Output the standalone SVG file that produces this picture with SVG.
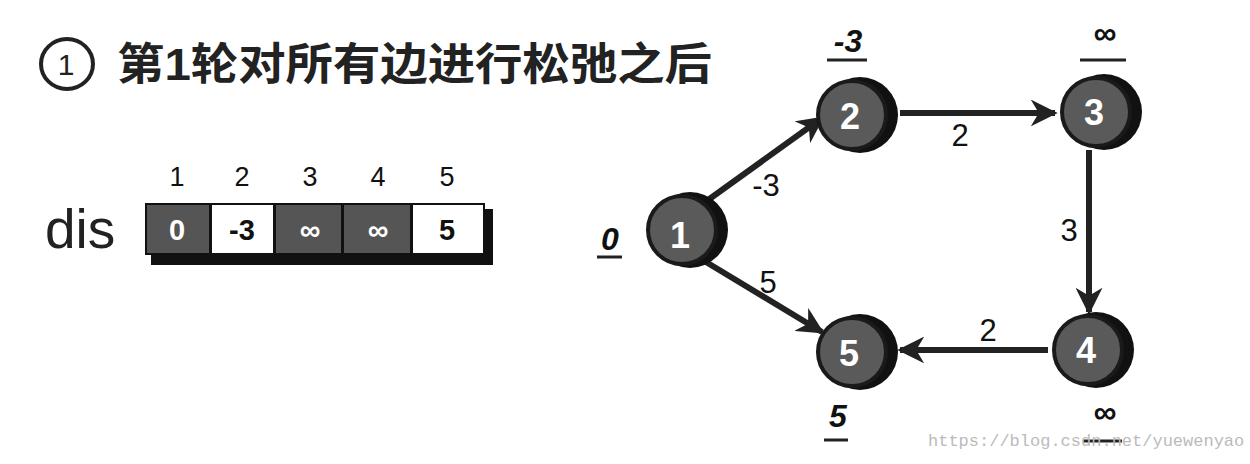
<svg xmlns="http://www.w3.org/2000/svg" width="1250" height="464" viewBox="0 0 1250 464">
<style>
.t{font-family:"Liberation Sans","Noto Sans CJK SC",sans-serif;}
.e{stroke:#222;stroke-width:6;fill:none;}
.nshadow{fill:#111;}
.nfill{fill:#5a5a5a;stroke:#1a1a1a;stroke-width:4;}
.nlab{font-family:"Liberation Sans",sans-serif;font-weight:bold;font-size:36px;fill:#fff;text-anchor:middle;}
.wl{font-family:"Liberation Sans",sans-serif;font-size:31px;fill:#111;text-anchor:middle;}
.dl{font-family:"Liberation Sans",sans-serif;font-weight:bold;font-style:italic;font-size:32px;fill:#111;text-anchor:middle;}
.ul{stroke:#222;stroke-width:3;}
.hd{font-family:"Liberation Sans",sans-serif;font-size:27px;fill:#111;text-anchor:middle;}
.cv{font-family:"Liberation Sans",sans-serif;font-weight:bold;font-size:29px;text-anchor:middle;}
</style>
<defs>
<marker id="ah" viewBox="0 0 10 10" refX="9" refY="5" markerWidth="4.5" markerHeight="4.5" orient="auto" markerUnits="strokeWidth">
<path d="M0,0 L10,5 L0,10 L3,5 Z" fill="#222"/>
</marker>
</defs>
<rect width="1250" height="464" fill="#fff"/>
<g id="title">
<ellipse cx="67" cy="64" rx="26" ry="25" fill="none" stroke="#222" stroke-width="4"/>
<text x="66" y="75" font-family="Liberation Sans,sans-serif" font-size="30" text-anchor="middle" fill="#222">1</text>
<text class="t" x="117" y="80" font-size="44" font-weight="bold" fill="#222" textLength="595" lengthAdjust="spacingAndGlyphs">第1轮对所有边进行松弛之后</text>
</g>
<g id="dis-table">
<text class="t" x="45" y="248" font-size="55" fill="#222">dis</text>
<rect x="151" y="209" width="342" height="56" fill="#111"/>
<rect x="145" y="203" width="340" height="52" fill="#111"/>
<rect x="147" y="205" width="62" height="48" fill="#555"/>
<rect x="212" y="205" width="61" height="48" fill="#fff"/>
<rect x="276" y="205" width="65" height="48" fill="#555"/>
<rect x="344" y="205" width="66" height="48" fill="#555"/>
<rect x="413" y="205" width="70" height="48" fill="#fff"/>
<text class="hd" x="177" y="186">1</text>
<text class="hd" x="242" y="186">2</text>
<text class="hd" x="310" y="186">3</text>
<text class="hd" x="378" y="186">4</text>
<text class="hd" x="447" y="186">5</text>
<text class="cv" x="177" y="240" fill="#fff">0</text>
<text class="cv" x="242" y="240" fill="#111">-3</text>
<text class="cv" x="310" y="240" fill="#fff">∞</text>
<text class="cv" x="378" y="240" fill="#fff">∞</text>
<text class="cv" x="447" y="240" fill="#111">5</text>
</g>
<g id="connectors">
<line class="e" x1="708" y1="200" x2="822" y2="118" marker-end="url(#ah)"/>
<line class="e" x1="900" y1="113" x2="1055" y2="113" marker-end="url(#ah)"/>
<line class="e" x1="1089" y1="150" x2="1089" y2="312" marker-end="url(#ah)"/>
<line class="e" x1="1048" y1="350" x2="900" y2="350" marker-end="url(#ah)"/>
<line class="e" x1="706" y1="262" x2="822" y2="332" marker-end="url(#ah)"/>
<text class="wl" x="766" y="196">-3</text>
<text class="wl" x="960" y="146">2</text>
<text class="wl" x="1069" y="241">3</text>
<text class="wl" x="988" y="341">2</text>
<text class="wl" x="768" y="293">5</text>
</g>
<g id="node1">
<circle class="nshadow" cx="690" cy="230" r="38"/>
<circle class="nfill" cx="682" cy="230" r="34"/>
<text class="nlab" x="680" y="248">1</text>
<text class="dl" x="610" y="250">0</text>
<line class="ul" x1="597" y1="257" x2="622" y2="257"/>
</g>
<g id="node2">
<circle class="nshadow" cx="860" cy="115" r="38"/>
<circle class="nfill" cx="852" cy="115" r="34"/>
<text class="nlab" x="850" y="129">2</text>
<text class="dl" x="848" y="52">-3</text>
<line class="ul" x1="827" y1="60" x2="867" y2="60"/>
</g>
<g id="node3">
<circle class="nshadow" cx="1104" cy="112" r="38"/>
<circle class="nfill" cx="1096" cy="112" r="34"/>
<text class="nlab" x="1094" y="125">3</text>
<text class="dl" x="1105" y="44">∞</text>
<line class="ul" x1="1080" y1="60" x2="1126" y2="60"/>
</g>
<g id="node4">
<circle class="nshadow" cx="1096" cy="350" r="38"/>
<circle class="nfill" cx="1088" cy="350" r="34"/>
<text class="nlab" x="1086" y="363">4</text>
<text class="dl" x="1105" y="423">∞</text>
<line class="ul" x1="1083" y1="441" x2="1122" y2="441"/>
</g>
<g id="node5">
<circle class="nshadow" cx="860" cy="352" r="38"/>
<circle class="nfill" cx="852" cy="352" r="34"/>
<text class="nlab" x="849" y="366">5</text>
<text class="dl" x="838" y="427">5</text>
<line class="ul" x1="824" y1="440" x2="848" y2="440"/>
</g>
<text x="928" y="446" font-family="Liberation Mono,monospace" font-size="17" fill="#bbb">https://blog.csdn.net/yuewenyao</text>
</svg>
